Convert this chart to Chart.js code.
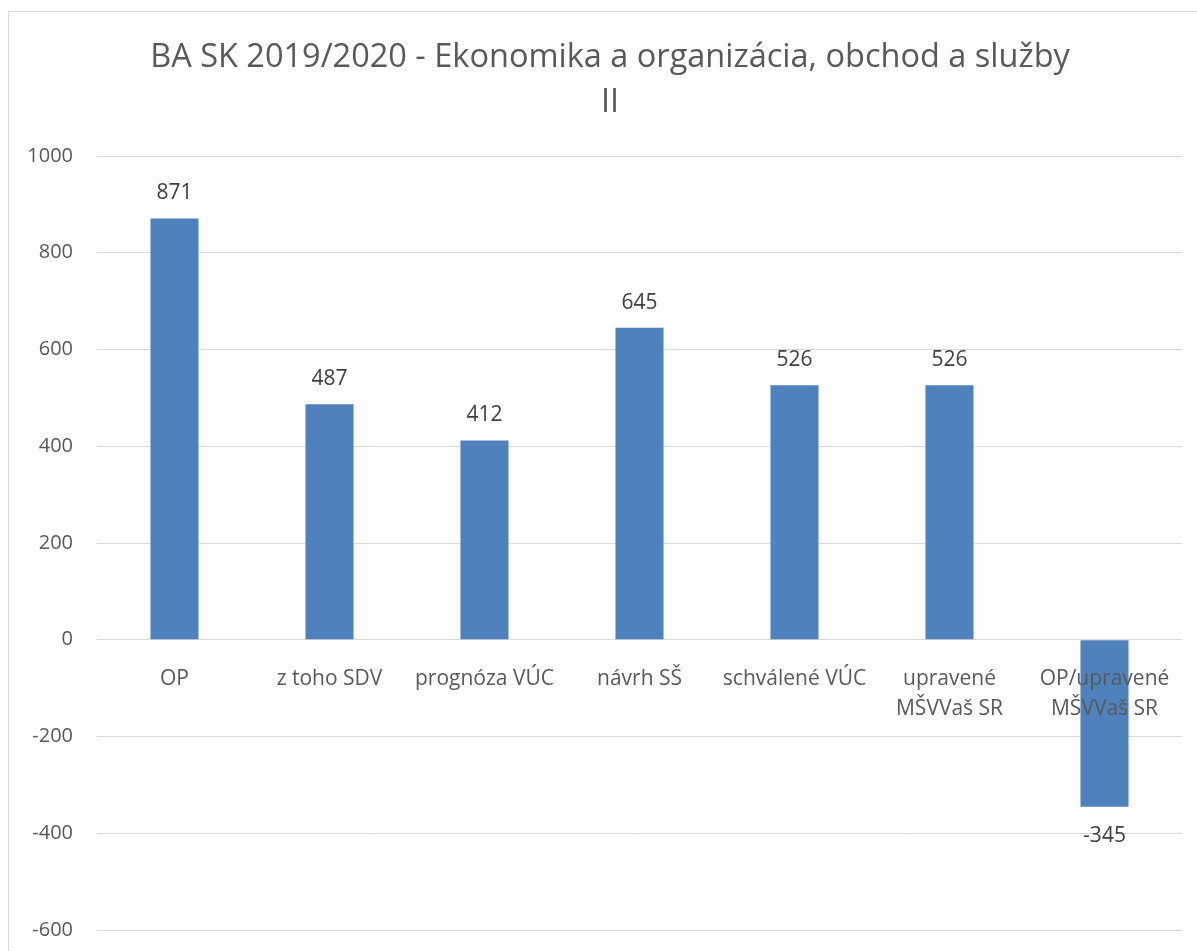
<!DOCTYPE html>
<html>
<head>
<meta charset="utf-8">
<script src="https://cdn.jsdelivr.net/npm/chart.js@4.4.0/dist/chart.umd.min.js"></script>
<style>
  html, body { margin: 0; padding: 0; background: #fff; }
  #wrap { width: 1197px; height: 951px; }
</style>
</head>
<body>
<div id="wrap"><canvas id="chart"></canvas></div>
<script>
const categories = ['OP', 'z toho SDV', 'prognóza VÚC', 'návrh SŠ', 'schválené VÚC',
    ['upravené', 'MŠVVaš SR'], ['OP/upravené', 'MŠVVaš SR']];
const values = [871, 487, 412, 645, 526, 526, -345];
const yTicks = [-600, -400, -200, 0, 200, 400, 600, 800, 1000];

const FONT = "'Open Sans', 'Liberation Sans', sans-serif";

// light frame around the chart, as in the spreadsheet export
const framePlugin = {
    id: 'frame',
    afterLayout(chart) {
        // the title in the original is centred a bit right of the canvas middle
        if (chart.titleBlock) chart.titleBlock.left = 38;
    },
    beforeDraw(chart) {
        const c = chart.ctx;
        c.save();
        c.strokeStyle = '#d9d9d9';
        c.lineWidth = 1;
        c.strokeRect(8.5, 11.5, 1400, 1400);
        c.restore();
    }
};

// value labels over / under each bar
const valueLabels = {
    id: 'valueLabels',
    afterDatasetsDraw(chart) {
        const c = chart.ctx;
        const meta = chart.getDatasetMeta(0);
        c.save();
        c.font = '21px ' + FONT;
        c.fillStyle = '#404040';
        c.textAlign = 'center';
        c.textBaseline = 'middle';
        meta.data.forEach((bar, i) => {
            const v = values[i];
            const y = v >= 0 ? bar.y - 25 : bar.y + 29;
            c.fillText(String(v), bar.x, y);
        });
        c.restore();
    }
};

new Chart(document.getElementById('chart'), {
    type: 'bar',
    data: {
        labels: categories,
        datasets: [{
            data: values,
            backgroundColor: '#4F81BD',
            borderWidth: 0,
            categoryPercentage: 1,
            barPercentage: 0.31
        }]
    },
    options: {
        responsive: true,
        maintainAspectRatio: false,
        animation: false,
        layout: { padding: { left: 0, right: 15, top: 0, bottom: 21 } },
        plugins: {
            legend: { display: false },
            tooltip: { enabled: false },
            title: {
                display: true,
                text: ['BA SK 2019/2020 - Ekonomika a organizácia, obchod a služby', 'II'],
                color: '#595959',
                font: { family: FONT, size: 32.5, weight: 'normal', lineHeight: '45px' },
                padding: { top: 35.5, bottom: 30.5 }
            }
        },
        scales: {
            x: {
                position: { y: 0 },
                grid: { display: false },
                border: { display: false },
                ticks: {
                    z: 1, // labels sit on top of the negative bar
                    color: '#595959',
                    font: { family: FONT, size: 21, lineHeight: 1.4 },
                    padding: 17,
                    maxRotation: 0,
                    autoSkip: false
                }
            },
            y: {
                min: -600,
                max: 1000,
                afterBuildTicks(scale) {
                    scale.ticks = yTicks.map(v => ({ value: v }));
                },
                afterFit(scale) {
                    scale.width = 97;
                    scale.paddingTop = 12;
                    scale.paddingBottom = 12;
                },
                grid: { color: '#d9d9d9', lineWidth: 1, drawTicks: false },
                border: { display: false },
                ticks: {
                    color: '#595959',
                    font: { family: FONT, size: 20 },
                    padding: 24,
                    callback: v => String(v)
                }
            }
        }
    },
    plugins: [framePlugin, valueLabels]
});
</script>
</body>
</html>
